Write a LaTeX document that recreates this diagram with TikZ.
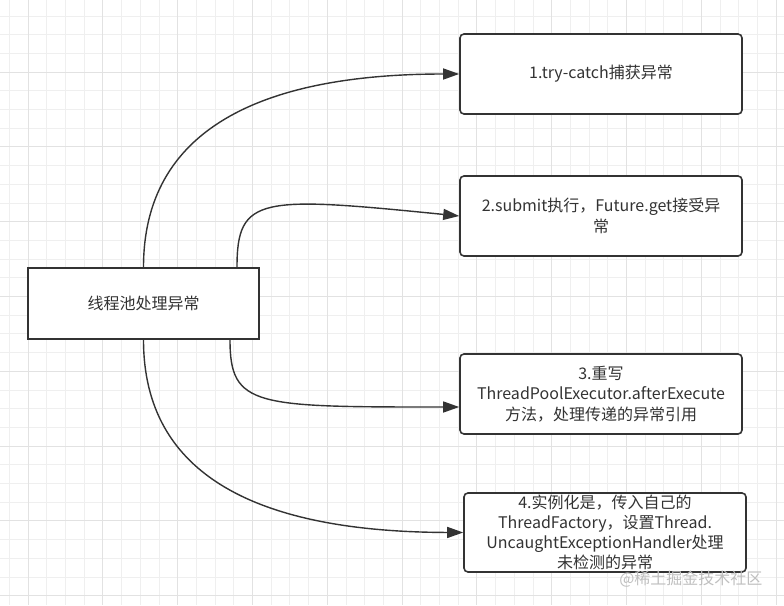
\documentclass[tikz,border=0pt]{standalone}
\usepackage{fontspec}
\setmainfont{Noto Sans CJK SC}
\usepackage{xcolor}
\usepackage{tikz}
\usetikzlibrary{calc}
\usetikzlibrary{arrows.meta}
\definecolor{ink}{HTML}{333333}
\definecolor{gridminor}{HTML}{EFEFEF}
\definecolor{gridmajor}{HTML}{E2E2E2}
\tikzset{
  poolbox/.style={draw=ink,line width=1.6pt,fill=white,minimum width=231pt,minimum height=71pt,inner sep=0pt,text=ink,font=\fontsize{16}{20}\selectfont},
  waybox/.style={draw=ink,line width=1.6pt,fill=white,rounded corners=4pt,minimum width=282pt,minimum height=80pt,inner sep=0pt,text=ink,align=center,font=\fontsize{16}{20.5}\selectfont},
  wayarrow/.style={draw=ink,line width=1.4pt,-{Triangle[length=16pt,width=11pt]}}
}
\begin{document}
\begin{tikzpicture}[x=1pt,y=-1pt]
		\useasboundingbox (0,0) rectangle (784,605);
		\fill[white] (0,0) rectangle (784,605);
		% grid
		\foreach \i in {0,...,41} {\draw[gridminor,line width=0.8pt] (9.3+18.7*\i,0) -- (9.3+18.7*\i,605);}
		\foreach \i in {1,...,32} {\draw[gridminor,line width=0.8pt] (0,-2.8+18.7*\i) -- (784,-2.8+18.7*\i);}
		\foreach \i in {0,...,10} {\draw[gridmajor,line width=1pt] (28+74.8*\i,0) -- (28+74.8*\i,605);}
		\foreach \i in {1,...,8} {\draw[gridmajor,line width=1pt] (0,-2.8+74.8*\i) -- (784,-2.8+74.8*\i);}
		% boxes
		\node[poolbox] (pool) at (143.5,303.5) {线程池处理异常};
		\node[waybox] (trycatch) at (601,74) {1.try-catch捕获异常};
		\node[waybox] (submit) at (601,216) {2.submit执行，Future.get接受异\\常};
		\node[waybox] (afterexec) at (601,394) {3.重写\\ThreadPoolExecutor.afterExecute\\方法，处理传递的异常引用};
		\node[waybox,minimum height=79pt,font=\fontsize{16}{19.8}\selectfont] (factory) at (605,532.5) {4.实例化是，传入自己的\\ThreadFactory，设置Thread.\\UncaughtExceptionHandler处理\\未检测的异常};
		\node[text=gray!50,font=\fontsize{16}{18}\selectfont,anchor=east] (mark) at (766,579) {@稀土掘金技术社区};
		% arrows
		\draw[wayarrow] (pool.north) .. controls (143.5,130) and (260,74) .. (trycatch.west);
		\draw[wayarrow] ($(pool.north)+(93.5,0)$) .. controls (237,196) and (260,196) .. (submit.west);
		\draw[wayarrow] ($(pool.south)+(86.5,0)$) .. controls (230,407) and (255,407) .. (afterexec.west |- 0,407);
		\draw[wayarrow] (pool.south) .. controls (143.5,477) and (260,532) .. (factory.west);
	\end{tikzpicture}
\end{document}
